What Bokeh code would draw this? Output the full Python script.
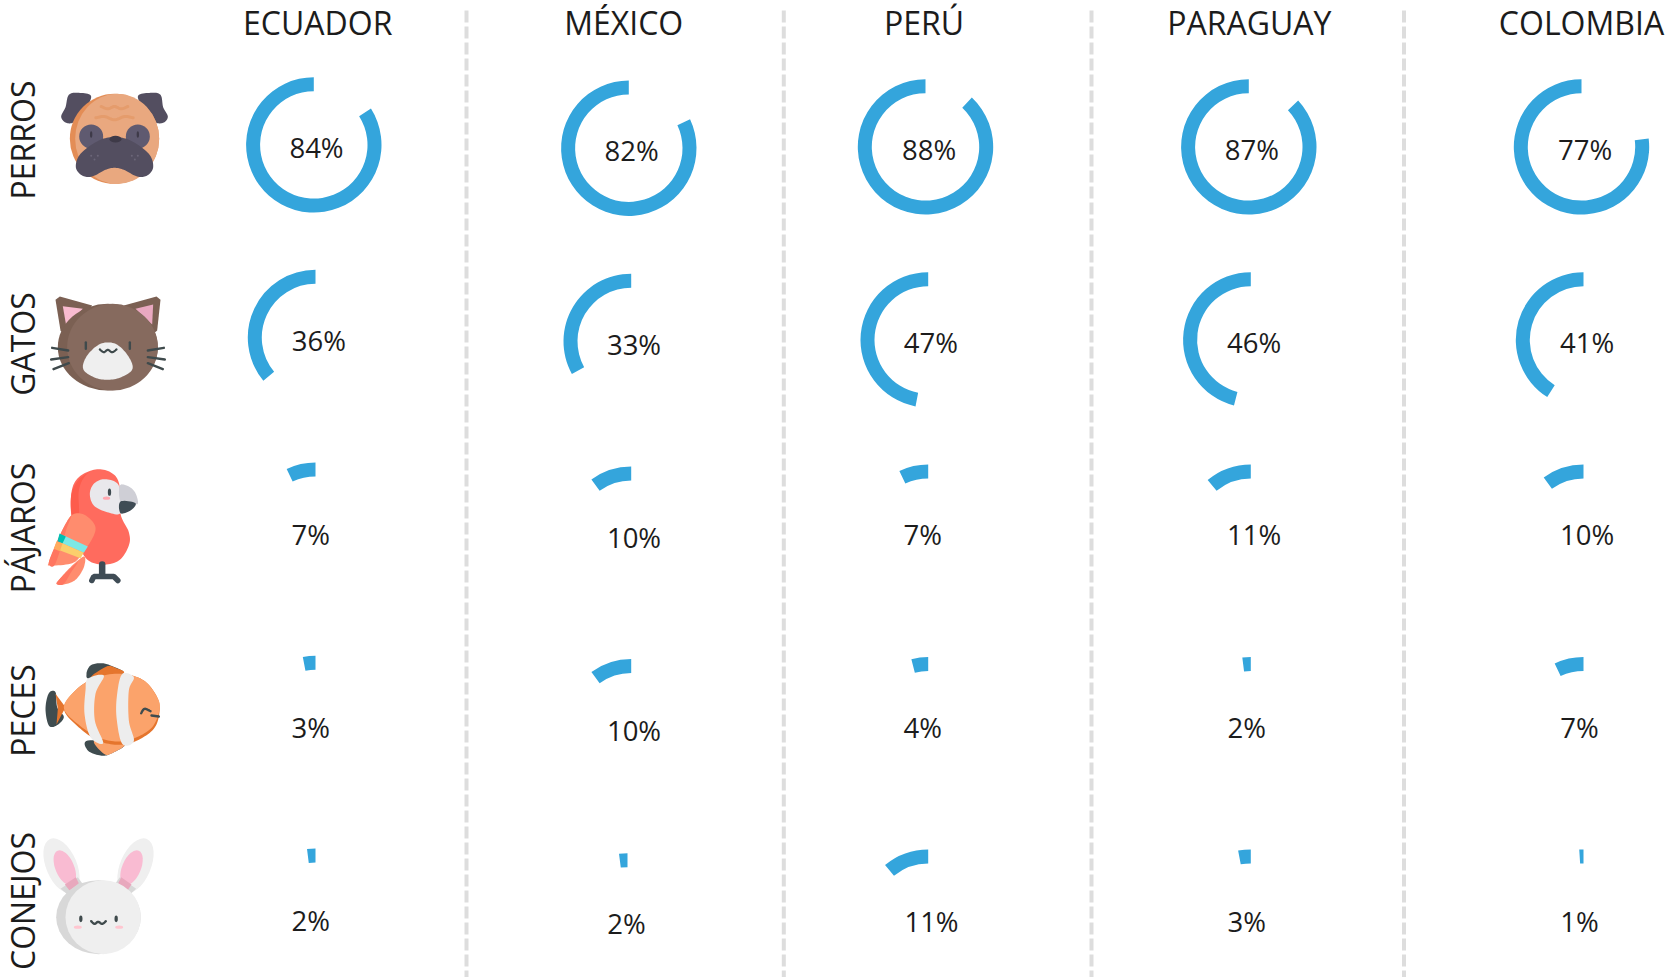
import math
import numpy as np
from bokeh.plotting import figure
from bokeh.models import Range1d
from bokeh.core.properties import value
from bokeh.embed import file_html
from bokeh.resources import INLINE

# ---- data
countries = ["ECUADOR", "MÉXICO", "PERÚ", "PARAGUAY", "COLOMBIA"]
animals = ["PERROS", "GATOS", "PÁJAROS", "PECES", "CONEJOS"]
perros = [84, 82, 88, 87, 77]
gatos = [36, 33, 47, 46, 41]
pajaros = [7, 10, 7, 11, 10]
peces = [3, 10, 4, 2, 7]
conejos = [2, 2, 11, 3, 1]
series = [perros, gatos, pajaros, peces, conejos]

# ---- layout (page pixels)
PAGE_H = 977
W, H = 1680, 977
ORIGIN = 0
header_x = [317.2, 623.2, 923.6, 1248.8, 1581.0]
header_mid = 22
divider_x = [466, 783.3, 1091, 1403.5]
animal_y = [139.5, 343.5, 527.5, 710, 900.5]
animal_mid_x = 22
ring_x = [[313.3, 628.3, 925, 1248.3, 1581],
          [315, 630.7, 927.7, 1250.3, 1583],
          [315, 630.7, 927.7, 1250.3, 1583],
          [315, 630.7, 927.7, 1250.3, 1583],
          [315, 627, 927.7, 1250.3, 1583]]
ring_top = [[76.7, 80, 78.7, 78.7, 78.7],
            [269.3, 273.2, 271.7, 271.7, 271.7],
            [462, 466, 464, 464, 464],
            [655.3, 658.5, 656.5, 656.5, 656.5],
            [848, 852.7, 848.9, 848.9, 848.9]]
label_x = [[316, 631.2, 928.7, 1251.3, 1584.7],
           [318.3, 633.5, 930.3, 1253.7, 1586.7],
           [310.3, 633.5, 922.3, 1253.7, 1586.7],
           [310.3, 633.5, 922.3, 1246.3, 1579],
           [310.3, 626, 931, 1246.3, 1579]]
label_y = [[147.3, 150, 148.7, 148.7, 148.7],
           [340.2, 343.6, 341.5, 341.5, 341.5],
           [534, 536.5, 534, 534, 534],
           [727.3, 730, 727.4, 727.4, 727.4],
           [920.2, 922.5, 920.7, 920.7, 920.7]]
R_OUT, R_IN = 67.7, 53.7
BLUE = "#34A5DC"
INK = "#1C1C1C"
FONT = "Open Sans"

p = figure(width=W, height=H, output_backend="svg", toolbar_location=None,
           x_range=Range1d(ORIGIN, ORIGIN + W), y_range=Range1d(PAGE_H - ORIGIN - H, PAGE_H - ORIGIN),
           x_axis_location=None, y_axis_location=None, min_border=0,
           outline_line_color=None, tools="")
p.grid.visible = False


def Y(py):
    return PAGE_H - py


# dividers
for x in divider_x:
    p.segment([x], [Y(10)], [x], [Y(PAGE_H)], line_color="#DDDDDD", line_width=4, line_dash="12 4")

# headers and row names
p.text(header_x, [Y(header_mid)] * 5, text=countries, text_font=value(FONT), text_font_size="32px",
       text_color=INK, text_align="center", text_baseline="middle")
p.text([animal_mid_x] * 5, [Y(v) for v in animal_y], text=animals, text_font=value(FONT),
       text_font_size="32px", text_color=INK, text_align="center", text_baseline="middle",
       angle=math.pi / 2)

# rings
for r, vals in enumerate(series):
    for c, v in enumerate(vals):
        cx = ring_x[r][c]
        cy = Y(ring_top[r][c] + R_OUT)
        p.annular_wedge([cx], [cy], inner_radius=R_IN, outer_radius=R_OUT,
                        start_angle=math.pi / 2, end_angle=math.pi / 2 + 2 * math.pi * v / 100,
                        direction="anticlock", fill_color=BLUE, line_color=None)
        p.text([label_x[r][c]], [Y(label_y[r][c])], text=[f"{v}%"], text_font=value(FONT),
               text_font_size="27.5px", text_color=INK, text_align="center", text_baseline="middle")


# ---- decorative icons, traced in zoom coordinates (3x, with a page offset)
def smooth(pts, closed=True, n=10):
    P = np.array(pts, float)
    m = len(P)
    out = []
    rng = range(m) if closed else range(m - 1)
    for i in rng:
        if closed:
            p0, p1, p2, p3 = P[(i - 1) % m], P[i], P[(i + 1) % m], P[(i + 2) % m]
        else:
            p0, p1, p2, p3 = P[max(i - 1, 0)], P[i], P[i + 1], P[min(i + 2, m - 1)]
        for t in np.linspace(0, 1, n, endpoint=False):
            out.append(0.5 * ((2 * p1) + (-p0 + p2) * t + (2 * p0 - 5 * p1 + 4 * p2 - p3) * t * t
                              + (-p0 + 3 * p1 - 3 * p2 + p3) * t ** 3))
    if not closed:
        out.append(P[-1])
    return np.array(out)


class Ico:
    def __init__(self, oy):
        self.oy = oy

    def X(self, x):
        return np.asarray(x, float) / 3

    def YY(self, y):
        return PAGE_H - (self.oy + np.asarray(y, float) / 3)

    def poly(self, pts, color, soft=True):
        a = smooth(pts) if soft else np.array(pts, float)
        p.patch(self.X(a[:, 0]), self.YY(a[:, 1]), fill_color=color, line_color=None)

    def line(self, pts, color, w=2.2, soft=True):
        a = smooth(pts, closed=False) if soft else np.array(pts, float)
        p.line(self.X(a[:, 0]), self.YY(a[:, 1]), line_color=color, line_width=w, line_cap="round")

    def ell(self, x, y, w, h, color, angle=0):
        p.ellipse([x / 3], [PAGE_H - (self.oy + y / 3)], width=w / 3, height=h / 3, angle=math.radians(angle),
                  fill_color=color, line_color=None)


# dog
d = Ico(60)
DARK = "#534E60"
d.poly([(272, 108), (235, 97), (205, 103), (195, 140), (182, 168), (195, 186), (218, 186), (245, 160)], DARK)
d.poly([(412, 108), (450, 97), (480, 103), (488, 140), (502, 168), (490, 186), (466, 186), (440, 160)], DARK)
d.ell(342, 235, 268, 270, "#E38D56")
d.ell(350, 235, 252, 270, "#E9A87F")
d.line([(302, 138), (322, 145), (342, 138), (362, 145), (382, 138)], "#E59C6C", 3)
d.line([(286, 172), (312, 168), (342, 178), (372, 168), (398, 172)], "#E59C6C", 3)
d.ell(272, 228, 72, 72, "#5F5A70")
d.ell(412, 228, 72, 72, "#5F5A70")
d.ell(272, 222, 7, 20, "#3E3A48")
d.ell(412, 222, 7, 20, "#3E3A48")
d.poly([(226, 320), (240, 280), (295, 240), (342, 230), (390, 240), (445, 280), (458, 320), (440, 345),
        (410, 348), (370, 328), (342, 322), (315, 328), (275, 348), (245, 345)], DARK)
d.ell(345, 236, 36, 20, "#3E3A48")
for dx, dy in [(272, 286), (292, 286), (282, 297), (394, 286), (412, 286), (403, 297)]:
    d.ell(dx, dy, 6, 6, "#6B6678")

# cat
c = Ico(60)
CATD = "#7B6053"
c.poly([(165, 718), (178, 708), (275, 735), (205, 835), (180, 810)], CATD, soft=False)
c.poly([(480, 718), (468, 708), (370, 735), (442, 835), (470, 810)], CATD, soft=False)
c.poly([(187, 737), (247, 745), (197, 795)], "#F9BBD0", soft=False)
c.poly([(458, 732), (405, 745), (455, 792)], "#E9A8C0", soft=False)
c.ell(322, 860, 300, 260, CATD)
c.ell(336, 860, 272, 260, "#866A5E")
c.poly([(300, 850), (345, 850), (382, 885), (396, 925), (362, 950), (320, 958), (280, 950), (248, 925), (260, 885)],
       "#EFEFEF")
WH = "#3F4A4C"
c.line([(256, 846), (256, 865)], WH, 2.4, soft=False)
c.line([(388, 846), (388, 865)], WH, 2.4, soft=False)
c.line([(298, 867), (310, 875), (322, 868), (335, 875), (348, 867)], WH, 2.2)
for a, b in [((155, 862), (203, 870)), ((152, 897), (203, 890)), ((159, 926), (205, 908)),
             ((490, 862), (442, 870)), ((493, 897), (442, 890)), ((487, 926), (442, 908))]:
    c.line([a, b], WH, 2.4, soft=False)

# parrot
q = Ico(420)
RED = "#FF6B5E"
q.poly([(285, 147), (330, 155), (356, 190), (360, 280), (385, 335), (385, 375), (355, 420), (300, 432), (250, 405),
        (215, 300), (213, 215), (235, 170)], RED)
q.poly([(285, 147), (240, 172), (213, 220), (215, 290), (235, 285), (235, 210), (255, 165)], "#FD5C4C")
q.line([(305, 432), (305, 462)], "#3F4C55", 6.5, soft=False)
q.line([(274, 480), (280, 468), (340, 468), (352, 480)], "#3F4C55", 5.5, soft=False)
q.poly([(250, 408), (250, 440), (225, 478), (190, 492), (170, 488), (205, 445)], "#FF8C6E")
q.poly([(232, 425), (205, 448), (170, 484), (172, 492), (190, 490), (212, 455)], "#FF7660")
q.poly([(215, 283), (250, 282), (282, 312), (280, 345), (245, 400), (215, 428), (150, 435), (145, 425), (170, 365),
        (190, 320)], "#FF8C6E")
q.poly([(213, 285), (190, 320), (160, 385), (145, 428), (162, 434), (185, 370), (198, 325)], "#FF7660")
q.poly([(190, 345), (262, 378), (250, 397), (180, 366)], "#7CE8E6", soft=False)
q.poly([(177, 339), (196, 348), (186, 369), (171, 362)], "#00BFB2", soft=False)
q.poly([(180, 366), (250, 397), (240, 413), (173, 388)], "#FBCF6C", soft=False)
q.poly([(168, 362), (186, 369), (178, 392), (160, 385)], "#FFAB5E", soft=False)
q.poly([(310, 176), (350, 188), (360, 225), (360, 278), (320, 275), (280, 255), (268, 220), (280, 190)], "#E9E8EC")
q.ell(327, 215, 10, 22, "#3E4A50")
q.ell(318, 233, 22, 10, "#FFA7B0")
q.poly([(358, 195), (385, 198), (405, 218), (412, 250), (390, 245), (360, 243)], "#CFCFD6")
q.poly([(360, 243), (405, 248), (390, 270), (360, 278)], "#3F4C55")

# fish
f = Ico(420)
FD = "#3F4C4F"
FO = "#E5752D"
f.poly([(165, 815), (145, 818), (135, 865), (145, 915), (168, 915), (190, 890), (170, 860)], FD)
f.poly([(165, 820), (195, 860), (168, 912), (172, 865)], FO, soft=False)
f.poly([(300, 728), (270, 735), (258, 760), (272, 775), (368, 758), (330, 735)], FD)
f.poly([(318, 738), (272, 772), (368, 758), (345, 742)], FO)
f.poly([(262, 960), (262, 990), (300, 1005), (330, 1000), (372, 970)], FD)
f.poly([(282, 960), (310, 1000), (335, 998), (372, 970)], "#FBA36B")
f.poly([(190, 865), (230, 805), (290, 770), (365, 760), (430, 780), (470, 830), (477, 875), (460, 925), (410, 960),
        (360, 973), (300, 963), (240, 925)], FO)
f.poly([(190, 862), (230, 805), (290, 770), (365, 760), (430, 780), (470, 830), (477, 868), (455, 920), (405, 952),
        (355, 963), (300, 953), (240, 917)], "#FBA36B")
f.poly([(262, 775), (310, 765), (285, 820), (283, 900), (308, 968), (270, 950), (252, 880), (255, 810)], "#EDEDED")
f.poly([(365, 761), (400, 770), (385, 810), (385, 900), (400, 962), (365, 970), (348, 890), (350, 820)], "#EDEDED")
f.line([(422, 878), (432, 865), (450, 872)], FD, 2.4)
f.line([(453, 885), (475, 888)], FD, 2.4, soft=False)

# rabbit
b = Ico(760)
b.ell(183, 316, 175, 92, "#EFEFEF", angle=113)
b.ell(405, 316, 175, 92, "#EFEFEF", angle=67)
b.ell(193, 322, 112, 56, "#F9BBD2", angle=113)
b.ell(393, 322, 112, 56, "#F9BBD2", angle=67)
b.poly([(180, 385), (232, 350), (250, 375), (205, 405)], "#D8D8D8", soft=False)
b.poly([(407, 385), (358, 350), (340, 375), (385, 405)], "#D8D8D8", soft=False)
b.poly([(193, 372), (226, 350), (235, 368), (207, 390)], "#E8A8BD", soft=False)
b.poly([(393, 372), (362, 350), (353, 368), (381, 390)], "#E8A8BD", soft=False)
b.ell(294, 470, 254, 222, "#D8D8D8")
b.ell(308, 470, 226, 222, "#EFEFEF")
b.ell(241, 475, 10, 20, "#3F4A4C")
b.ell(347, 475, 10, 20, "#3F4A4C")
b.line([(272, 482), (282, 490), (293, 484), (305, 490), (316, 482)], "#3F4A4C", 2.4)
b.ell(232, 500, 24, 10, "#FFC6D0")
b.ell(356, 500, 24, 10, "#FFC6D0")

open("out.html", "w").write(file_html(p, INLINE))
